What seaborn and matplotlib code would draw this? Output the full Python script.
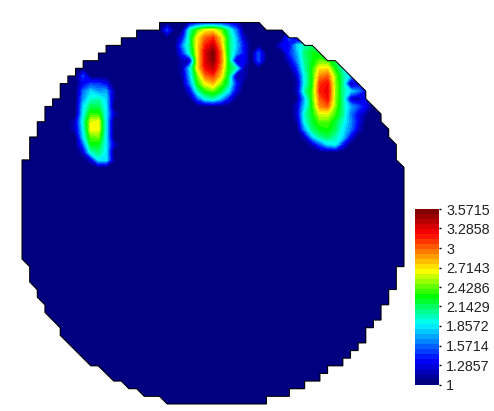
import numpy as np
import matplotlib
matplotlib.use("Agg")
import matplotlib.pyplot as plt
from matplotlib.colors import LinearSegmentedColormap
from matplotlib.patches import Polygon
import seaborn as sns

sns.set_style("white")
plt.rcParams["font.family"] = ["Liberation Sans", "DejaVu Sans"]

GRID = 50
VMIN, VMAX = 1.0, 3.5715
N_COLORS = 35
tick_values = [1, 1.2857, 1.5714, 1.8572, 2.1429, 2.4286, 2.7143, 3, 3.2858, 3.5715]
tick_labels = ["1", "1.2857", "1.5714", "1.8572", "2.1429", "2.4286", "2.7143", "3", "3.2858", "3.5715"]

# wafer outline (column, row of the measurement grid)
outline = [(18,0),(31,0),(32,1),(34,1),(35,2),(36,2),(37,3),(38,3),(40,5),(41,5),(45,9),(45,10),
           (47,12),(47,13),(48,14),(48,15),(49,16),(49,18),(50,19),(50,32),(49,32),(49,35),(48,35),
           (48,37),(47,37),(47,39),(46,39),(46,40),(45,40),(45,42),(44,42),(44,43),(43,43),(43,44),
           (42,44),(42,45),(40,45),(40,46),(39,46),(39,47),(37,47),(37,48),(35,48),(35,49),(32,49),
           (32,50),(19,50),(18,49),(16,49),(15,48),(14,48),(13,47),(12,47),(10,45),(9,45),(5,41),
           (5,40),(3,38),(3,37),(2,36),(2,35),(1,34),(1,32),(0,31),(0,18),(1,18),(1,15),(2,15),
           (2,13),(3,13),(3,11),(4,11),(4,10),(5,10),(5,8),(6,8),(6,7),(7,7),(7,6),(8,6),(8,5),
           (10,5),(10,4),(11,4),(11,3),(13,3),(13,2),(15,2),(15,1),(18,1)]

# hot spot at top centre: first column 21, first row 0
spot_top = [
    [1.0,1.15,1.25,1.3,1.3,1.3,1.25,1.2,1.0,1.0],
    [1.05,2.0,2.4,2.65,2.7,2.45,2.05,1.6,1.05,1.0],
    [1.3,2.1,2.7,3.0,3.1,2.75,2.15,1.75,1.2,1.0],
    [1.6,2.1,2.7,3.15,3.35,2.85,2.15,1.8,1.35,1.0],
    [1.4,2.0,2.7,3.3,3.55,3.0,2.15,1.7,1.35,1.0],
    [1.15,1.2,2.7,3.3,3.5,3.0,2.25,1.1,1.35,1.0],
    [1.15,1.85,2.7,3.2,3.35,2.9,2.25,2.0,1.15,1.0],
    [1.1,1.75,2.45,2.95,3.1,2.75,2.15,1.1,1.15,1.0],
    [1.05,1.6,2.3,2.65,2.8,2.45,2.1,1.4,1.05,1.0],
    [1.0,1.25,2.0,2.3,2.4,2.2,1.85,1.25,1.0,1.0],
    [1.0,1.05,1.5,1.9,2.0,1.75,1.35,1.05,1.0,1.0],
]
# hot spot at upper right: first column 35, first row 3
spot_right = [
    [1.3,1.8,2.0,2.1,1.0,1.0,1.0,1.0,1.0,1.0,1.0,1.0],
    [1.4,1.7,2.1,2.25,2.2,1.0,1.0,1.0,1.0,1.0,1.0,1.0],
    [1.2,1.6,2.05,2.25,2.4,2.35,2.15,1.6,1.0,1.0,1.0,1.0],
    [1.05,1.4,2.0,2.3,2.7,2.7,2.25,1.95,1.6,1.0,1.0,1.0],
    [1.0,1.2,1.9,2.3,2.9,3.0,2.45,2.05,1.75,1.4,1.0,1.0],
    [1.0,1.1,1.9,2.3,3.1,3.2,2.5,2.05,1.1,1.3,1.4,1.0],
    [1.0,1.15,2.0,2.35,3.15,3.25,2.5,2.05,1.8,1.6,1.3,1.0],
    [1.0,1.05,1.7,2.35,3.0,3.2,2.5,2.05,1.2,1.1,1.3,1.0],
    [1.0,1.2,1.8,2.3,2.9,3.0,2.45,2.05,1.7,1.5,1.3,1.0],
    [1.0,1.2,1.95,2.25,2.6,2.6,2.35,2.05,1.6,1.3,1.1,1.0],
    [1.0,1.1,1.9,2.2,2.4,2.4,2.2,1.95,1.65,1.3,1.0,1.0],
    [1.0,1.0,1.65,2.1,2.25,2.3,2.15,1.85,1.6,1.2,1.0,1.0],
    [1.0,1.0,1.15,1.75,2.05,2.15,2.0,1.8,1.3,1.0,1.0,1.0],
    [1.0,1.0,1.0,1.15,1.5,1.8,1.9,1.35,1.0,1.0,1.0,1.0],
]
# hot spot at left: first column 7, first row 8
spot_left = [
    [1.0,1.3,1.45,1.45,1.3,1.0],
    [1.0,1.55,1.8,1.65,1.7,1.1],
    [1.0,1.65,1.95,2.0,1.8,1.1],
    [1.0,1.8,2.15,2.15,1.85,1.0],
    [1.0,1.85,2.35,2.35,1.85,1.2],
    [1.2,1.95,2.6,2.65,1.85,1.0],
    [1.2,1.85,2.65,2.65,1.85,1.0],
    [1.0,1.8,2.4,2.45,1.85,1.0],
    [1.0,1.5,2.25,2.25,1.85,1.2],
    [1.0,1.2,1.95,2.1,1.85,1.0],
    [1.0,1.0,1.2,1.85,1.85,1.1],
]
# small isolated readings: (column, row, value)
small_spots = [(19,1,1.45),(8,7,1.45),(31,4,1.5),(31,5,1.5),(34,3,1.3),(35,4,1.4),
               (35,2,1.5),(36,3,1.6)]

values = np.full((GRID + 1, GRID + 1), VMIN)
for arr, c0, r0 in ((spot_top, 21, 0), (spot_right, 35, 3), (spot_left, 7, 8)):
    a = np.array(arr)
    values[r0:r0 + a.shape[0], c0:c0 + a.shape[1]] = a
for c, r, v in small_spots:
    values[r, c] = max(values[r, c], v)

W, H = 494, 411
fig = plt.figure(figsize=(W / 100, H / 100), dpi=100, facecolor="white")
ax = fig.add_axes([22 / W, 1 - 404 / H, 382 / W, 381.5 / H])
cax = fig.add_axes([415 / W, 1 - 384.5 / H, 23.5 / W, 175.5 / H])

cmap = LinearSegmentedColormap.from_list(
    "rainbow_bands",
    [(0.0, (0, 0, 0.5)), (0.125, (0, 0, 1)), (0.34, (0, 1, 1)), (0.5, (0, 1, 0)),
     (0.65, (1, 1, 0)), (0.87, (1, 0, 0)), (1.0, (0.5, 0, 0))],
    N=N_COLORS,
)
sns.heatmap(values[:-1, :-1], ax=ax, cbar_ax=cax, cmap=cmap, vmin=VMIN, vmax=VMAX,
            xticklabels=False, yticklabels=False, square=False)

clip = Polygon(outline, closed=True, transform=ax.transData, facecolor="none",
               edgecolor="black", linewidth=0.75, zorder=5)
clip.set_clip_on(False)
ax.add_patch(clip)
ax.collections[0].set_clip_path(clip)

levels = np.linspace(VMIN, VMAX, N_COLORS + 1)
cols = np.arange(GRID + 1)
cs = ax.contourf(cols, cols, values, levels=levels, cmap=cmap, vmin=VMIN, vmax=VMAX,
                 antialiased=False, zorder=2)
cs.set_clip_path(clip)
ax.set_xlim(0, GRID)
ax.set_ylim(GRID, 0)
for s in ax.spines.values():
    s.set_visible(False)

cax.set_yticks(tick_values, tick_labels)
cax.tick_params(axis="y", right=True, length=1.5, width=1, pad=4, labelsize=10.3, colors="black",
                labelcolor="#222222")
for s in cax.spines.values():
    s.set_visible(False)
cbar = ax.collections[0].colorbar
cbar.outline.set_visible(False)

fig.savefig("out.png", dpi=100, facecolor="white")
